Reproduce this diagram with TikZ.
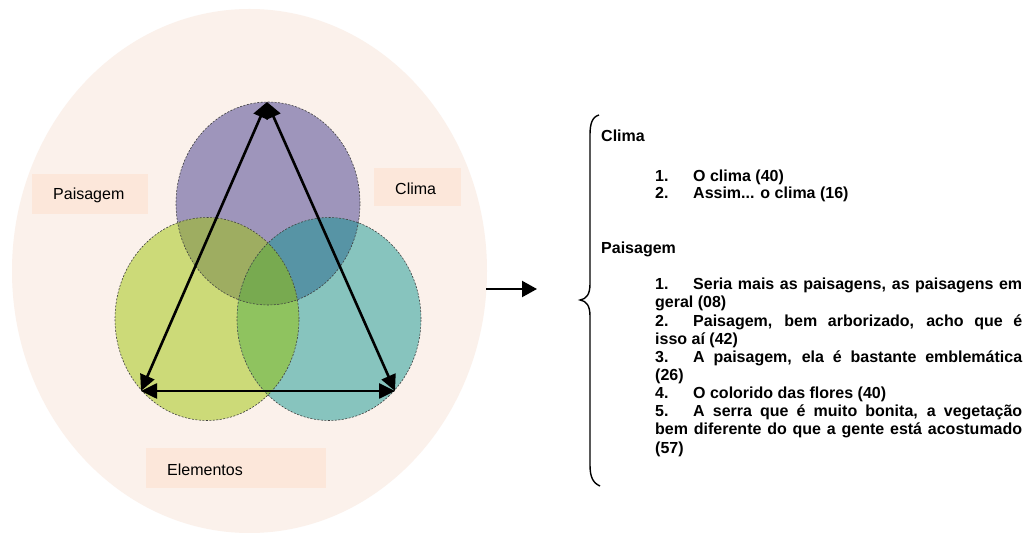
\documentclass[tikz,border=0pt]{standalone}
\usepackage{fontspec}
\setmainfont{Liberation Sans}
\usetikzlibrary{arrows.meta,shapes.geometric}
\definecolor{bgell}{HTML}{FBF1EB}
\definecolor{boxfill}{HTML}{FCE7DA}
\definecolor{cpurple}{HTML}{9E95BB}
\definecolor{cgreen}{HTML}{CCDA78}
\definecolor{cteal}{HTML}{87C4BE}
\definecolor{cpg}{HTML}{9EAD61}
\definecolor{cpt}{HTML}{5794A5}
\definecolor{cgt}{HTML}{8FC35F}
\definecolor{cpgt}{HTML}{78AA50}
\newcommand\jline[1]{\makebox[367pt][s]{#1}}
\newcommand\numb[1]{\makebox[38pt][l]{#1}}
\tikzset{
  lbox/.style={fill=boxfill, draw=none, inner sep=0pt, anchor=north west},
  lbl/.style={font=\fontsize{16}{19}\selectfont, inner sep=0pt, anchor=base west},
  tline/.style={font=\fontsize{16}{19}\selectfont\bfseries, inner sep=0pt, anchor=base west},
  dashedge/.style={draw=black!75, line width=0.6pt, dash pattern=on 2pt off 1.5pt},
  dblarrow/.style={line width=2.6pt, {Triangle[length=16pt,width=15pt]}-{Triangle[length=16pt,width=15pt]}},
  onearrow/.style={line width=2.2pt, -{Triangle[length=15pt,width=16pt]}},
}
\begin{document}
\begin{tikzpicture}[x=1pt,y=-1pt]
\useasboundingbox (0,0) rectangle (1029,534);
\fill[white] (0,0) rectangle (1029,534);
% background ellipse
\fill[bgell] (249.5,271) ellipse [x radius=237.5pt, y radius=262pt];
% label boxes
\node[lbox, minimum width=116pt, minimum height=39.5pt] (pbox) at (32,174) {};
\node[lbox, minimum width=87pt, minimum height=38.5pt] (cbox) at (374,167.5) {};
\node[lbox, minimum width=180pt, minimum height=40pt] (ebox) at (146,448) {};
\node[lbl] (ptxt) at (53,200) {Paisagem};
\node[lbl] (ctxt) at (395,195) {Clima};
\node[lbl] (etxt) at (167,476) {Elementos};
% circles
\fill[cpurple] (268,203.5) ellipse [x radius=92pt, y radius=101.5pt];
\fill[cgreen] (207,319) ellipse [x radius=92pt, y radius=101.5pt];
\fill[cteal] (329,319) ellipse [x radius=92pt, y radius=101.5pt];
\begin{scope}
  \clip (268,203.5) ellipse [x radius=92pt, y radius=101.5pt];
  \fill[cpg] (207,319) ellipse [x radius=92pt, y radius=101.5pt];
  \fill[cpt] (329,319) ellipse [x radius=92pt, y radius=101.5pt];
\end{scope}
\begin{scope}
  \clip (207,319) ellipse [x radius=92pt, y radius=101.5pt];
  \fill[cgt] (329,319) ellipse [x radius=92pt, y radius=101.5pt];
  \clip (329,319) ellipse [x radius=92pt, y radius=101.5pt];
  \fill[cpgt] (268,203.5) ellipse [x radius=92pt, y radius=101.5pt];
\end{scope}
\node[ellipse, dashedge, minimum width=184pt, minimum height=203pt, inner sep=0pt] (cT) at (268,203.5) {};
\node[ellipse, dashedge, minimum width=184pt, minimum height=203pt, inner sep=0pt] (cL) at (207,319) {};
\node[ellipse, dashedge, minimum width=184pt, minimum height=203pt, inner sep=0pt] (cR) at (329,319) {};
% triangle arrows
\coordinate (T) at (267,102);
\coordinate (BL) at (141,391);
\coordinate (BR) at (395,391);
\draw[dblarrow] (T) -- (BL);
\draw[dblarrow] (T) -- (BR);
\draw[dblarrow] (BL) -- (BR);
% arrow to list
\coordinate (a1) at (486,289);
\coordinate (a2) at (537,289);
\draw[onearrow] (a1) -- (a2);
% brace
\draw[line width=1.4pt] (599,115) .. controls (592,117) and (590,124) .. (590,135) -- (590,284)
  .. controls (590,295) and (586,299) .. (580,300)
  .. controls (586,301) and (590,305) .. (590,316) -- (590,465)
  .. controls (590,477) and (593,483) .. (600,486);
% list text
\node[tline] (hclima) at (601,142) {Clima};
\node[tline] (c1) at (655,181.5) {\numb{1.}O clima (40)};
\node[tline] (c2) at (655,198.5) {\numb{2.}Assim... o clima (16)};
\node[tline] (hpais) at (601,253.5) {Paisagem};
\node[tline] (p1) at (655,289.8) {\jline{\numb{1.}Seria mais as paisagens, as paisagens em}};
\node[tline] (p1b) at (655,307.95) {geral (08)};
\node[tline] (p2) at (655,326.1) {\jline{\numb{2.}Paisagem, bem arborizado, acho que é}};
\node[tline] (p2b) at (655,344.25) {isso aí (42)};
\node[tline] (p3) at (655,362.4) {\jline{\numb{3.}A paisagem, ela é bastante emblemática}};
\node[tline] (p3b) at (655,380.55) {(26)};
\node[tline] (p4) at (655,398.7) {\numb{4.}O colorido das flores (40)};
\node[tline] (p5) at (655,416.85) {\jline{\numb{5.}A serra que é muito bonita, a vegetação}};
\node[tline] (p5b) at (655,435) {\jline{bem diferente do que a gente está acostumado}};
\node[tline] (p5c) at (655,453.15) {(57)};
\end{tikzpicture}
\end{document}
